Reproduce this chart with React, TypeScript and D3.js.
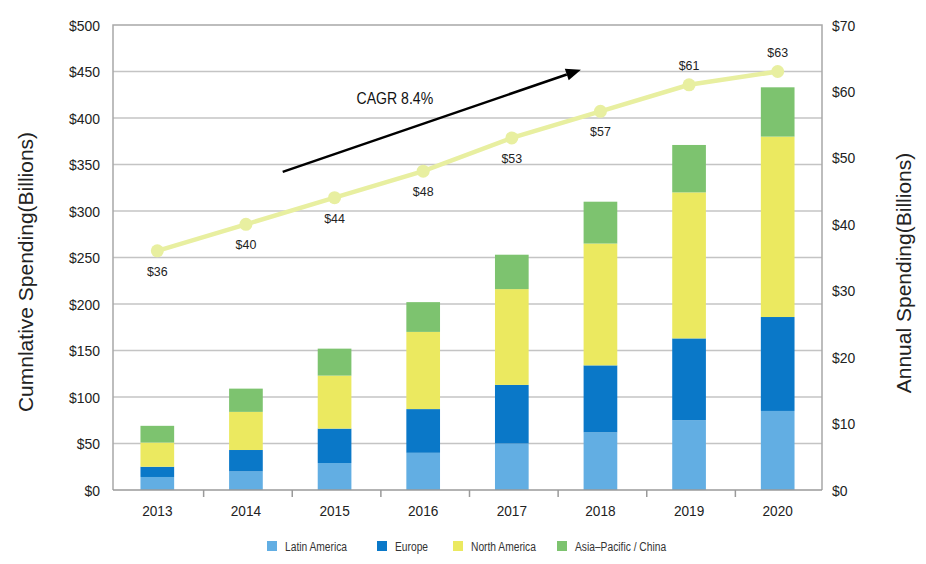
import React from "react";
import * as d3 from "d3";

const YEARS = ["2013", "2014", "2015", "2016", "2017", "2018", "2019", "2020"];
const SERIES = ["Latin America", "Europe", "North America", "Asia-Pacific / China"];
const LATIN_AMERICA = [14, 20, 29, 40, 50, 62, 75, 85];
const EUROPE = [11, 23, 37, 47, 63, 72, 88, 101];
const NORTH_AMERICA = [26, 41, 57, 83, 103, 131, 157, 194];
const ASIA_PACIFIC = [18, 25, 29, 32, 37, 45, 51, 53];
const ANNUAL = [36, 40, 44, 48, 53, 57, 61, 63];
const LEFT_TICKS = [0, 50, 100, 150, 200, 250, 300, 350, 400, 450, 500];
const RIGHT_TICKS = [0, 10, 20, 30, 40, 50, 60, 70];
const COLORS = ["#62aee3", "#0a78c8", "#ebe960", "#7dc36f"];
const LINE_COLOR = "#e8efa0";

const W = 926;
const H = 564;
const M = { left: 113, right: 822, top: 25, bottom: 490 };
const FONT = "'Liberation Sans', Arial, sans-serif";

export default function App() {
  const x = d3.scaleBand<string>().domain(YEARS).range([M.left, M.right]).paddingInner(0.62).paddingOuter(0.31);
  const yL = d3.scaleLinear().domain([0, 500]).range([M.bottom, M.top]);
  const yR = d3.scaleLinear().domain([0, 70]).range([M.bottom, M.top]);
  const step = (M.right - M.left) / YEARS.length;

  const table = YEARS.map((yr, i) => ({
    year: yr,
    "Latin America": LATIN_AMERICA[i],
    Europe: EUROPE[i],
    "North America": NORTH_AMERICA[i],
    "Asia-Pacific / China": ASIA_PACIFIC[i],
  }));
  const stacked = d3.stack<any>().keys(SERIES)(table);

  const cx = (i: number) => (x(YEARS[0]) as number) + x.bandwidth() / 2 + i * step;
  const line = d3
    .line<number>()
    .x((_, i) => cx(i))
    .y((d) => yR(d));

  // annotation arrow in data space (category index, cumulative value)
  const arrowFrom = { i: 1.415, v: 342 };
  const arrowTo = { i: 4.78, v: 452 };
  const ax1 = cx(arrowFrom.i), ay1 = yL(arrowFrom.v);
  const ax2 = cx(arrowTo.i), ay2 = yL(arrowTo.v);
  const ang = Math.atan2(ay2 - ay1, ax2 - ax1);
  const headL = 15, headW = 6;
  const bx = ax2 - headL * Math.cos(ang), by = ay2 - headL * Math.sin(ang);
  const head = `M${ax2},${ay2} L${bx + headW * Math.sin(ang)},${by - headW * Math.cos(ang)} L${bx - headW * Math.sin(ang)},${by + headW * Math.cos(ang)} Z`;

  const legendX = [267, 377, 453, 557];

  return (
    <svg width={W} height={H} style={{ position: "absolute", left: 0, top: 0, background: "#fff" }} fontFamily={FONT}>
      {/* gridlines */}
      {LEFT_TICKS.filter((t) => t > 0 && t < 500).map((t) => (
        <line key={t} x1={M.left} x2={M.right} y1={yL(t)} y2={yL(t)} stroke="#c4c4c4" strokeWidth={1.5} />
      ))}
      {/* frame */}
      <path d={`M${M.left},${M.bottom} V${M.top} H${M.right} V${M.bottom}`} fill="none" stroke="#a8a8a8" strokeWidth={1.5} />

      {/* bars */}
      {stacked.map((s, k) => (
        <g key={s.key} fill={COLORS[k]}>
          {s.map((d, i) => (
            <rect key={i} x={x(YEARS[i])} width={x.bandwidth()} y={yL(d[1])} height={yL(d[0]) - yL(d[1])} />
          ))}
        </g>
      ))}

      {/* bottom axis */}
      <line x1={M.left} x2={M.right} y1={M.bottom} y2={M.bottom} stroke="#9a9a9a" strokeWidth={1.5} />
      {YEARS.slice(1).map((yr, i) => (
        <line key={yr} x1={M.left + (i + 1) * step + 2} x2={M.left + (i + 1) * step + 2} y1={M.bottom} y2={M.bottom + 7} stroke="#9a9a9a" strokeWidth={1.5} />
      ))}
      {YEARS.map((yr, i) => (
        <text key={yr} transform={`translate(${cx(i)},${516}) scale(0.88,1)`} textAnchor="middle" fontSize={15.5} fill="#222">
          {yr}
        </text>
      ))}

      {/* left axis labels */}
      {LEFT_TICKS.map((t) => (
        <text key={t} transform={`translate(100,${yL(t) + 5.5}) scale(0.9,1)`} textAnchor="end" fontSize={15.5} fill="#222">
          {`$${t}`}
        </text>
      ))}
      {/* right axis labels */}
      {RIGHT_TICKS.map((t) => (
        <text key={t} transform={`translate(832,${yR(t) + 5.5}) scale(0.9,1)`} textAnchor="start" fontSize={15.5} fill="#222">
          {`$${t}`}
        </text>
      ))}

      {/* axis titles */}
      <text transform="translate(25,272) rotate(-90)" textAnchor="middle" dominantBaseline="central" fontSize={21} fill="#222">
        Cumnlative Spending(Billions)
      </text>
      <text transform="translate(903,273) rotate(-90)" textAnchor="middle" dominantBaseline="central" fontSize={21} fill="#222">
        Annual Spending(Billions)
      </text>

      {/* annual line */}
      <path d={line(ANNUAL) || ""} fill="none" stroke={LINE_COLOR} strokeWidth={4.5} />
      {ANNUAL.map((v, i) => (
        <circle key={i} cx={cx(i)} cy={yR(v)} r={6.5} fill={LINE_COLOR} />
      ))}
      {ANNUAL.map((v, i) => {
        const above = i >= 6;
        return (
          <text key={i} transform={`translate(${cx(i)},${yR(v) + (above ? -20 : 20) + 5}) scale(0.92,1)`} textAnchor="middle" fontSize={13.5} fill="#222">
            {`$${v}`}
          </text>
        );
      })}

      {/* CAGR annotation */}
      <line x1={ax1} y1={ay1} x2={bx} y2={by} stroke="#000" strokeWidth={2.5} />
      <path d={head} fill="#000" />
      <text transform={`translate(${cx(2.68)},${yL(421.5) + 6}) scale(0.88,1)`} textAnchor="middle" fontSize={16} fill="#111">
        CAGR 8.4%
      </text>

      {/* legend */}
      {SERIES.map((s, k) => (
        <g key={s} transform={`translate(${legendX[k]},541)`}>
          <rect width={10} height={10} fill={COLORS[k]} />
          <text transform="translate(18,9.5) scale(0.82,1)" fontSize={12.5} fill="#333">
            {s.replace("-", "\u2013")}
          </text>
        </g>
      ))}
    </svg>
  );
}
